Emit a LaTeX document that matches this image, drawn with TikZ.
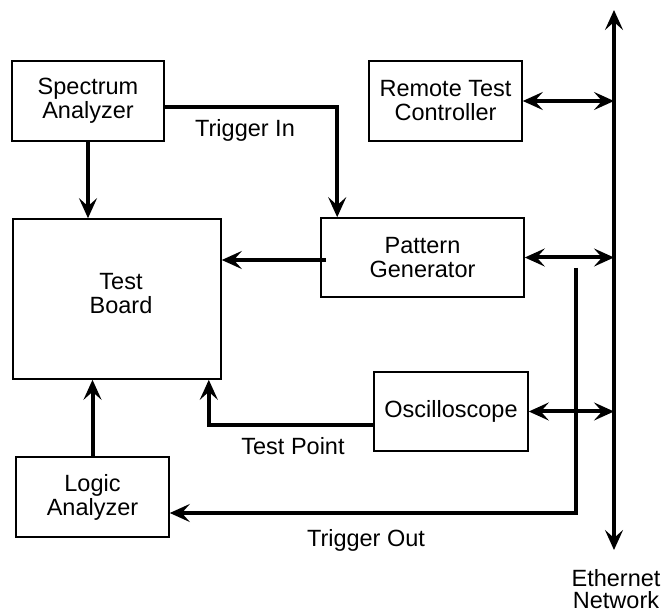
\documentclass[tikz,border=0pt]{standalone}
\usepackage{fontspec}
\setmainfont{Liberation Sans}
\usetikzlibrary{arrows.meta}
\begin{document}
\begin{tikzpicture}[x=1pt,y=-1pt,
  box/.style={draw,line width=1.6pt,inner sep=0pt,align=center,font=\fontsize{23.5}{24}\selectfont},
  lbl/.style={inner sep=0pt,align=center,font=\fontsize{23.5}{22}\selectfont},
  tip/.tip={Stealth[length=20pt,width=18pt,inset=8pt]},
  arr/.style={line width=4pt,-tip},
  dbl/.style={line width=4pt,tip-tip}
]
\useasboundingbox (0,0) rectangle (662,612);

\node[box,minimum width=152pt,minimum height=80pt] (spec) at (88,101) {Spectrum\\Analyzer};
\node[box,minimum width=153pt,minimum height=80pt] (rem) at (445.5,101) {Remote Test\\Controller};
\node[box,minimum width=208pt,minimum height=160pt] (board) at (117,299) {};
\node[lbl,font=\fontsize{23.5}{24}\selectfont] (boardtxt) at (121,294) {Test\\Board};
\node[box,minimum width=203pt,minimum height=79pt] (pat) at (422.5,257.5) {Pattern\\Generator};
\node[box,minimum width=154pt,minimum height=79pt] (osc) at (451,411.5) {Oscilloscope};
\node[box,minimum width=153pt,minimum height=80pt] (logic) at (92.5,497) {Logic\\Analyzer};

\coordinate (etop) at (614,10);
\coordinate (ebot) at (614,550);
\coordinate (tout) at (576,268);

\draw[dbl] (etop) -- (ebot);
\node[lbl] (eth) at (616,589) {Ethernet\\Network};

\draw[arr] (spec.south) -- (spec.south |- board.north);
\draw[arr] (spec.east |- 0,107) -| ([xshift=17pt]pat.north west);
\node[lbl] (trin) at (245,130) {Trigger In};
\draw[arr] ([xshift=6pt]pat.west |- 0,260) -- (board.east |- 0,260);
\draw[dbl] (rem.east) -- (rem.east -| etop);
\draw[dbl] (pat.east) -- (pat.east -| etop);
\draw[dbl] (osc.east) -- (osc.east -| etop);
\draw[arr] (osc.west |- 0,425) -| ([xshift=-13pt]board.south east);
\node[lbl] (tp) at (293,446) {Test Point};
\draw[arr] (logic.north) -- (logic.north |- board.south);
\draw[arr] (tout) |- (logic.east |- 0,513);
\node[lbl] (trout) at (366,540) {Trigger Out};
\end{tikzpicture}
\end{document}
